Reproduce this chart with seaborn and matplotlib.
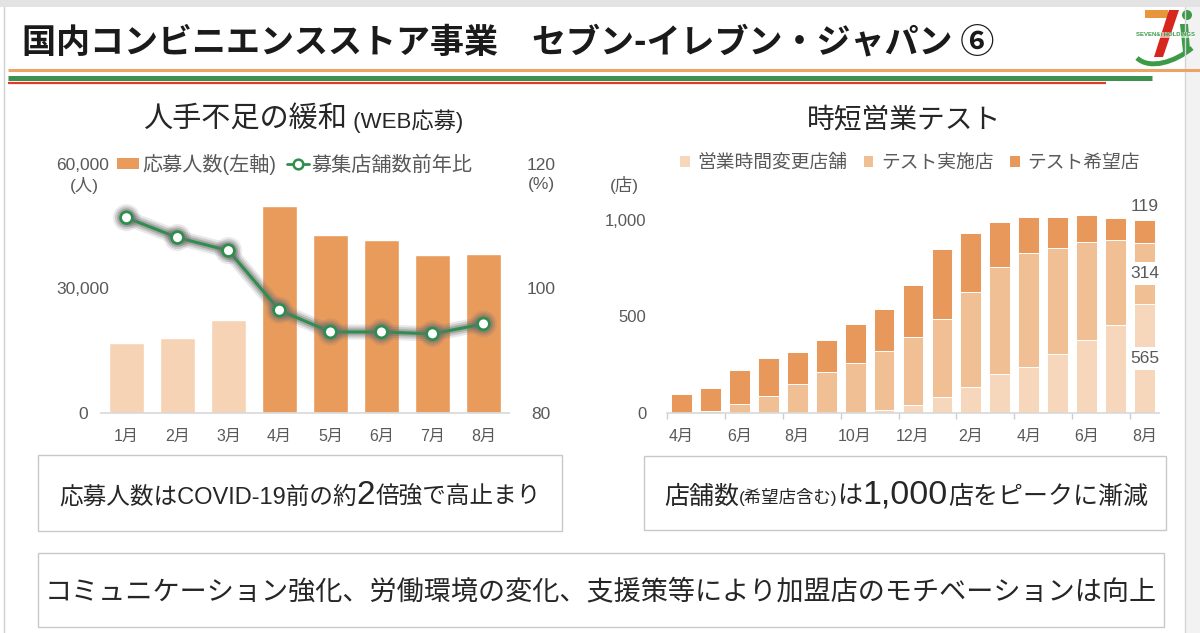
import numpy as np
import pandas as pd
import matplotlib
matplotlib.use('Agg')
import matplotlib.pyplot as plt
import matplotlib.patheffects as pe
from matplotlib.patches import Rectangle, Polygon, Circle, PathPatch
from matplotlib.path import Path
from matplotlib.lines import Line2D
from matplotlib.offsetbox import TextArea, HPacker, AnnotationBbox
from matplotlib.ticker import FuncFormatter
import seaborn as sns

# 人手不足の緩和 (WEB応募)
months_l = ['1月', '2月', '3月', '4月', '5月', '6月', '7月', '8月']
applicants = [16800, 18100, 22500, 49900, 42900, 41700, 38000, 38400]
store_ratio = [111.4, 108.2, 106.1, 96.5, 93.0, 93.0, 92.7, 94.3]

# 時短営業テスト (2019/4 - 2020/8)
periods = ['2019-04', '2019-05', '2019-06', '2019-07', '2019-08', '2019-09',
           '2019-10', '2019-11', '2019-12', '2020-01', '2020-02', '2020-03',
           '2020-04', '2020-05', '2020-06', '2020-07', '2020-08']
months_r = ['4月', '5月', '6月', '7月', '8月', '9月', '10月', '11月', '12月',
            '1月', '2月', '3月', '4月', '5月', '6月', '7月', '8月']
changed = [0, 0, 0, 0, 0, 0, 0, 14, 38, 80, 131, 201, 235, 303, 379, 455, 565]
tested = [0, 10, 43, 87, 147, 209, 260, 308, 356, 406, 495, 555, 592, 552, 509, 439, 314]
wanted = [95, 116, 178, 198, 170, 170, 202, 214, 267, 362, 307, 235, 190, 159, 140, 115, 119]

# 色
ORANGE = '#E99B5B'
PEACH = '#F6D3B4'
GREEN = '#2F8E4E'
R_DARK = '#E8985A'
R_MID = '#F1BF94'
R_LIGHT = '#F7D7BC'
GREY = '#595959'
JP = ['Liberation Sans', 'Noto Sans CJK JP']

sns.set_theme(style='white')
plt.rcParams['font.family'] = JP

fig = plt.figure(figsize=(12, 6.33), dpi=100)
W, H = 1200, 633

# 背景・装飾用 (ピクセル座標)
bg = fig.add_axes([0, 0, 1, 1])
bg.set_xlim(0, W)
bg.set_ylim(H, 0)
bg.axis('off')

bg.add_patch(Rectangle((0, 0), W, 7, color='#E3E3E3', lw=0))
bg.add_patch(Rectangle((1185, 7), 15, H, color='#F2F2F2', lw=0))
bg.plot([3.5, 3.5], [7, H], color='#CFCFCF', lw=1)
bg.plot([1184.5, 1184.5], [7, H], color='#D5D5D5', lw=1)

bg.text(22, 42, '国内コンビニエンスストア事業　セブン-イレブン・ジャパン ⑥',
        fontsize=24.5, weight='bold', va='center', color='#1A1A1A',
        family=['Noto Sans CJK JP', 'DejaVu Sans'])

bg.plot([8, 1200], [70, 70], color='#EBA467', lw=2.2, solid_capstyle='butt')
bg.plot([8, 1152], [77.5, 77.5], color='#3C9150', lw=3.6, solid_capstyle='butt')
bg.plot([8, 1106], [82.8, 82.8], color='#DE3B2E', lw=1.6, solid_capstyle='butt')

# ロゴ (簡略)
bg.add_patch(Rectangle((1145, 10), 23, 8, color='#E8963C', lw=0))
bg.add_patch(Polygon([(1169, 10), (1179, 10), (1163, 57), (1154, 57)], color='#D7261E', lw=0))
bg.add_patch(Circle((1187, 15), 5, color='#3C9A48', lw=0))
bg.add_patch(Polygon([(1180, 24), (1188, 24), (1190, 50), (1183, 52)], color='#3C9A48', lw=0))
swoosh = Path([(1137, 58), (1150, 70), (1175, 62), (1192, 48)],
              [Path.MOVETO, Path.CURVE4, Path.CURVE4, Path.CURVE4])
bg.add_patch(PathPatch(swoosh, fc='none', ec='#3C9A48', lw=3.5))
bg.text(1165, 35, 'SEVEN&i HOLDINGS', fontsize=4.3, weight='bold', color='#3C9A48',
        ha='center', va='center', family=['Liberation Sans Narrow', 'Liberation Sans'],
        bbox=dict(fc='white', ec='none', pad=0.3, alpha=0.6))

# グラフタイトル
def packed(parts, xy, color='#262626'):
    kids = [TextArea(t, textprops=dict(fontsize=s, color=color, family=JP)) for t, s in parts]
    box = HPacker(children=kids, align='baseline', pad=0, sep=0)
    bg.add_artist(AnnotationBbox(box, xy, xycoords='data', frameon=False,
                                 box_alignment=(0.5, 0.5), pad=0))

packed([('人手不足の緩和', 21), (' (WEB応募)', 16)], (303, 120))
packed([('時短営業テスト', 20)], (904, 120))

# ---- 左グラフ ----
axl = fig.add_axes([101 / W, 1 - 412.7 / H, 408 / W, 248.4 / H])
df_l = pd.DataFrame({'month': months_l, 'applicants': applicants})
pal_l = {m: (PEACH if i < 3 else ORANGE) for i, m in enumerate(months_l)}
sns.barplot(data=df_l, x='month', y='applicants', hue='month', palette=pal_l,
            legend=False, width=0.69, saturation=1, ax=axl)
axl.set_xlim(-0.5, len(months_l) - 0.5)
axl.set_ylim(0, 60000)
axl.set_yticks([0, 30000, 60000])
axl.yaxis.set_major_formatter(FuncFormatter(lambda v, p: f'{v:,.0f}'))
axl.set_xlabel('')
axl.set_ylabel('')
for s in ['left', 'right', 'top']:
    axl.spines[s].set_visible(False)
axl.spines['bottom'].set_color('#D9D9D9')
axl.tick_params(axis='y', length=0, pad=13, labelsize=12.5, labelcolor=GREY)
axl.tick_params(axis='x', length=0, pad=12, labelsize=11.5, labelcolor=GREY)
for t in axl.yaxis.get_major_ticks():
    t.label1.set_horizontalalignment('center')

ax2 = axl.twinx()
glow = [pe.Stroke(linewidth=11, foreground='#707070', alpha=0.15),
        pe.Stroke(linewidth=8, foreground='#707070', alpha=0.25),
        pe.Stroke(linewidth=5, foreground='#707070', alpha=0.4),
        pe.Normal()]
sns.lineplot(x=np.arange(len(months_l)), y=store_ratio, ax=ax2, color=GREEN, lw=2.2,
             marker='o', markersize=8.5, markerfacecolor='white', markeredgecolor=GREEN,
             markeredgewidth=2, path_effects=glow)
ax2.set_ylim(80, 120)
ax2.set_yticks([80, 100, 120])
for s in ['left', 'right', 'top', 'bottom']:
    ax2.spines[s].set_visible(False)
ax2.tick_params(axis='y', length=0, pad=23, labelsize=12.5, labelcolor=GREY, right=True, labelright=True)
for t in ax2.yaxis.get_major_ticks():
    t.label2.set_horizontalalignment('center')
ax2.set_ylabel('')

bg.text(84, 185, '(人)', fontsize=12.5, color=GREY, ha='center', va='center')
bg.text(541, 185, '(%)', fontsize=12.5, color=GREY, ha='center', va='center')

h_l = [Rectangle((0, 0), 1, 1, fc=ORANGE, lw=0),
       Line2D([0], [0], color=GREEN, lw=2, marker='o', markersize=7,
              markerfacecolor='white', markeredgecolor=GREEN, markeredgewidth=1.8)]
fig.legend(h_l, ['応募人数(左軸)', '募集店舗数前年比'], loc='center',
           bbox_to_anchor=(295 / W, 1 - 164 / H), ncol=2, frameon=False, fontsize=14.5,
           handlelength=1.1, handleheight=0.5, handletextpad=0.15, columnspacing=0.5,
           labelcolor=GREY, borderaxespad=0, borderpad=0)

# ---- 右グラフ ----
axr = fig.add_axes([667 / W, 1 - 412.7 / H, 492 / W, 231.2 / H])
df_r = pd.DataFrame({'period': periods, 'changed': changed, 'tested': tested, 'wanted': wanted})
df_r['mid'] = df_r['changed'] + df_r['tested']
df_r['total'] = df_r['mid'] + df_r['wanted']
for col, c in [('total', R_DARK), ('mid', R_MID), ('changed', R_LIGHT)]:
    sns.barplot(data=df_r, x='period', y=col, color=c, saturation=1, width=0.72,
                edgecolor='white', linewidth=0.7, ax=axr)
axr.set_xlim(-0.5, len(periods) - 0.5)
axr.set_ylim(0, 1200)
axr.set_yticks([0, 500, 1000])
axr.yaxis.set_major_formatter(FuncFormatter(lambda v, p: f'{v:,.0f}'))
axr.set_xticks(range(0, len(periods), 2))
axr.set_xticklabels(months_r[::2])
axr.set_xticks(np.arange(-0.5, len(periods) - 1, 2), minor=True)
axr.set_xlabel('')
axr.set_ylabel('')
for s in ['left', 'right', 'top']:
    axr.spines[s].set_visible(False)
axr.spines['bottom'].set_color('#D9D9D9')
axr.tick_params(axis='y', length=0, pad=15, labelsize=12, labelcolor=GREY)
axr.tick_params(axis='x', which='major', length=0, pad=12, labelsize=11.5, labelcolor=GREY)
axr.tick_params(axis='x', which='minor', bottom=True, length=4, width=1, color='#C5CFDC')

last = len(periods) - 1
lab_kw = dict(ha='center', va='center', fontsize=12.5, color=GREY)
axr.text(last, changed[-1] / 2, f'{changed[-1]}',
         bbox=dict(fc='white', ec='none', boxstyle='square,pad=0.22'), **lab_kw)
axr.text(last, changed[-1] + tested[-1] / 2, f'{tested[-1]}',
         bbox=dict(fc='white', ec='none', boxstyle='square,pad=0.22'), **lab_kw)
axr.text(last, df_r['total'].iloc[-1] + 70, f'{wanted[-1]}', **lab_kw)

bg.text(624, 185, '(店)', fontsize=12.5, color=GREY, ha='center', va='center')

h_r = [Rectangle((0, 0), 1, 1, fc=c, lw=0) for c in (R_LIGHT, R_MID, R_DARK)]
fig.legend(h_r, ['営業時間変更店舗', 'テスト実施店', 'テスト希望店'], loc='center',
           bbox_to_anchor=(910 / W, 1 - 163 / H), ncol=3, frameon=False, fontsize=13.5,
           handlelength=0.5, handleheight=0.5, handletextpad=0.4, columnspacing=0.9,
           labelcolor=GREY, borderaxespad=0, borderpad=0)

# ---- コメント枠 ----
for x0, y0, w, h in [(38, 455, 524, 76), (644, 456, 522, 74), (38, 553, 1126, 74)]:
    bg.add_patch(Rectangle((x0, y0), w, h, fill=False, ec='#C8C8C8', lw=1))

packed([('応募人数はCOVID-19前の約', 17), ('2', 24), ('倍強で高止まり', 17)], (300, 495))
packed([('店舗数', 18), ('(希望店含む)', 12.5), ('は', 18), ('1,000', 24.5),
        ('店をピークに漸減', 18)], (906, 495))
bg.text(601, 592, 'コミュニケーション強化、労働環境の変化、支援策等により加盟店のモチベーションは向上',
        fontsize=19.5, color='#262626', ha='center', va='center')

fig.savefig('out.png', dpi=100)
